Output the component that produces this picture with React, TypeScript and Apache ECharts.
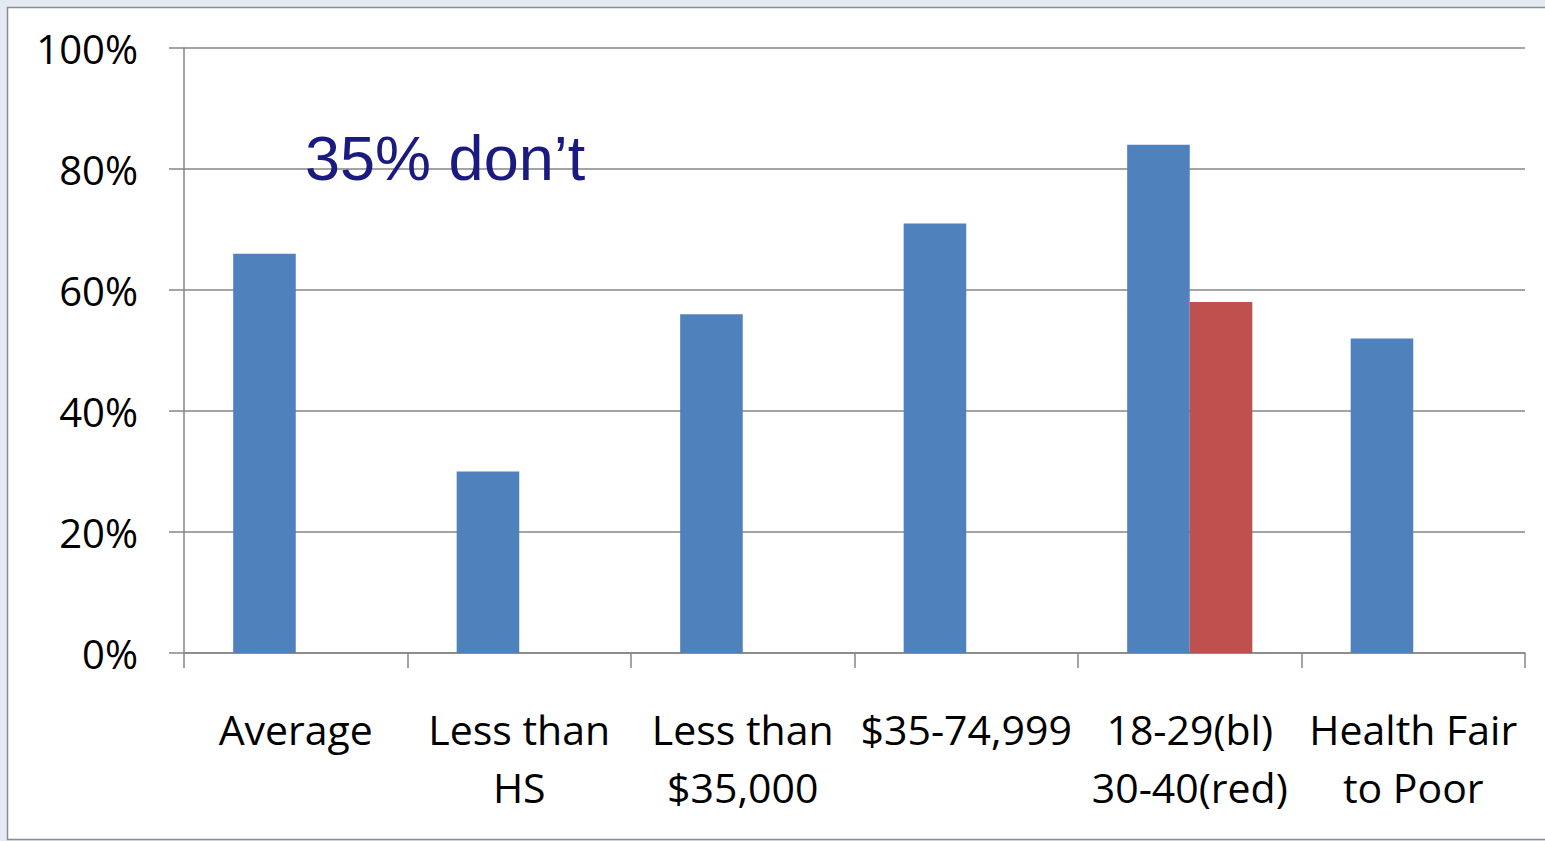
import React, { useEffect, useRef } from "react";
import * as echarts from "echarts";

const categories = [
  "Average",
  "Less than\nHS",
  "Less than\n$35,000",
  "$35-74,999",
  "18-29(bl)\n30-40(red)",
  "Health Fair\nto Poor",
];
const blueValues = [66, 30, 56, 71, 84, 52];
const redValues: (number | null)[] = [null, null, null, null, 58, null];
const yTicks = [0, 20, 40, 60, 80, 100];
const annotation = "35% don\u2019t";

export default function App() {
  const ref = useRef<HTMLDivElement>(null);
  useEffect(() => {
    if (!ref.current) return;
    const chart = echarts.init(ref.current, undefined, { renderer: "svg" });
    const gray = "#868686";
    chart.setOption({
      animation: false,
      backgroundColor: "#E4EAF4",
      grid: { left: 184, right: 20, top: 48, bottom: 188, containLabel: false },
      graphic: [
        {
          type: "rect",
          z: -10,
          silent: true,
          shape: { x: 7.5, y: 7.5, width: 1600, height: 832 },
          style: { fill: "#ffffff", stroke: "#8c8c8c", lineWidth: 1.5 },
        },
        {
          type: "text",
          z: 100,
          x: 305,
          y: 158,
          style: {
            text: annotation,
            font: '63px "Liberation Sans", Arial, sans-serif',
            fill: "#1A1A80",
            verticalAlign: "middle",
            align: "left",
          },
        },
      ],
      xAxis: {
        type: "category",
        data: categories,
        axisLine: { show: true, lineStyle: { color: gray, width: 1.5 } },
        axisTick: { show: true, length: 15, alignWithLabel: false, lineStyle: { color: gray, width: 1.5 } },
        axisLabel: {
          interval: 0,
          margin: 47,
          color: "#000",
          fontFamily: '"Open Sans", sans-serif',
          fontSize: 41,
          lineHeight: 58,
        },
        splitLine: { show: false },
      },
      yAxis: {
        type: "value",
        min: 0,
        max: 100,
        interval: 20,
        axisLine: { show: true, lineStyle: { color: gray, width: 1.5 } },
        axisTick: { show: true, length: 15, lineStyle: { color: gray, width: 1.5 } },
        splitLine: { show: true, lineStyle: { color: gray, width: 1.5 } },
        axisLabel: {
          margin: 46,
          color: "#000",
          fontFamily: '"Open Sans", sans-serif',
          fontSize: 40,
          formatter: (v: number) => (yTicks.includes(v) ? v + "%" : ""),
        },
      },
      series: [
        {
          type: "bar",
          name: "Blue",
          data: blueValues,
          barWidth: "28%",
          barGap: "0%",
          itemStyle: { color: "#4F81BD" },
        },
        {
          type: "bar",
          name: "Red",
          data: redValues,
          barWidth: "28%",
          barGap: "0%",
          itemStyle: { color: "#C0504D" },
        },
      ],
    });
    return () => chart.dispose();
  }, []);
  return (
    <div
      ref={ref}
      style={{ position: "fixed", left: 0, top: 0, width: 1545, height: 841 }}
    />
  );
}
